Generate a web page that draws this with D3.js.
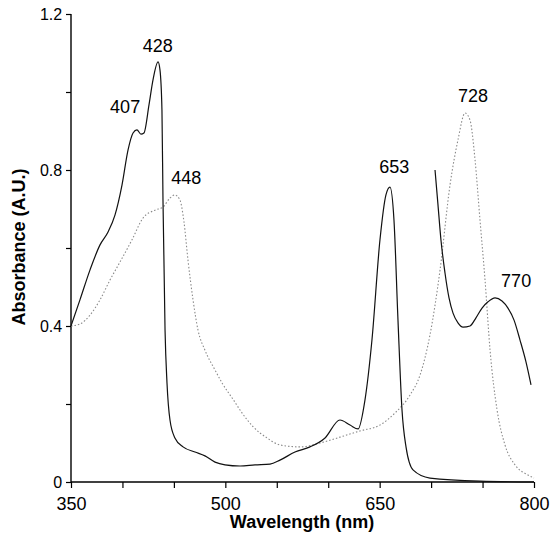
<!DOCTYPE html>
<html>
<head>
<meta charset="utf-8">
<script src="https://cdn.jsdelivr.net/npm/d3@7"></script>
<style>
    body { margin: 0; background: #fff; }
    svg { display: block; }
</style>
</head>
<body>
<div id="chart"></div>
<script>
// spectrum 1 (solid), full range
var solidWl = [350, 358.7, 368.5, 378.2, 386, 392.8, 399.6, 405.4, 410.3, 414.1, 418, 420.9, 425.8, 429.7, 434.6, 436.5,
    438.4, 439.4, 441.4, 443.3, 446.2, 451, 458.9, 470.5, 480.2, 490, 499.7, 514.3, 528.8, 543.4, 553.1, 567.7, 582.3,
    596.9, 611.4, 621.2, 629, 635.7, 642.5, 650.3, 656.1, 660, 663.9, 667.8, 671.7, 675.6, 682.4, 698.9, 747.5, 800];
var solidAbs = [0.40, 0.467, 0.544, 0.608, 0.641, 0.685, 0.762, 0.851, 0.895, 0.903, 0.892, 0.895, 0.967, 1.031, 1.077, 1.056,
    0.954, 0.723, 0.39, 0.254, 0.159, 0.113, 0.090, 0.077, 0.067, 0.051, 0.044, 0.041, 0.044, 0.046, 0.056, 0.077, 0.090,
    0.113, 0.159, 0.146, 0.136, 0.21, 0.364, 0.621, 0.736, 0.756, 0.672, 0.415, 0.185, 0.09, 0.031, 0.010, 0.002, 0.0];

// spectrum 2 (dotted)
var dotWl = [350, 358.7, 368.5, 378.2, 387.9, 397.6, 409.3, 420, 431.6, 439.4, 446.2, 451, 455.9, 459.8, 463.7, 468.6,
    473.4, 480.2, 490, 496.8, 507.5, 516, 526.9, 540.5, 553.1, 572.5, 592, 611.4, 630.8, 650.3, 664.9, 679.5, 689.2, 698.9, 708.7,
    718.4, 726.1, 733, 737.8, 742.7, 747.5, 752.4, 757.3, 764.1, 771.8, 781.5, 794.2, 800];
var dotAbs = [0.40, 0.405, 0.428, 0.467, 0.518, 0.564, 0.621, 0.677, 0.697, 0.705, 0.728, 0.736, 0.723, 0.667, 0.569, 0.467,
    0.39, 0.338, 0.287, 0.254, 0.212, 0.178, 0.142, 0.113, 0.095, 0.09, 0.10, 0.115, 0.131, 0.146, 0.177, 0.223, 0.274, 0.377, 0.544,
    0.762, 0.877, 0.946, 0.928, 0.826, 0.672, 0.518, 0.338, 0.185, 0.095, 0.044, 0.018, 0.01];

// spectrum 3 (solid), red end only
var redWl = [703.8, 706.7, 709.6, 713.5, 717.4, 721.3, 726.1, 731, 737.8, 743.6, 749.5, 755.3, 762.1, 768.9, 774.7,
    780.6, 786.4, 792.2, 797.1];
var redAbs = [0.80, 0.71, 0.62, 0.536, 0.472, 0.433, 0.408, 0.397, 0.40, 0.421, 0.446, 0.462, 0.472, 0.464, 0.446,
    0.415, 0.364, 0.308, 0.249];

// peak labels
var peakText = ['407', '428', '448', '653', '728', '770'];
var peakWl = [407, 428, 448, 653, 728, 770];
var peakAbs = [0.946, 1.103, 0.764, 0.792, 0.974, 0.50];
var peakDx = [-4.5, 6.5, 14.5, 11.5, 13, 13];

var xTicks = [350, 400, 450, 500, 550, 600, 650, 700, 750, 800];
var xLabels = [350, 500, 650, 800];
var yTicks = [0, 0.2, 0.4, 0.6, 0.8, 1.0, 1.2];
var yLabels = [0, 0.4, 0.8, 1.2];

var width = 560, height = 536;
var font = 'Liberation Sans, Arial, Helvetica, sans-serif';

var x = d3.scaleLinear().domain([350, 800]).range([71, 534]);
var y = d3.scaleLinear().domain([0, 1.2]).range([482, 14]);

var svg = d3.select('#chart').append('svg')
    .attr('width', width)
    .attr('height', height);

var zip = function (wl, ab) {
    return wl.map(function (w, i) { return { wl: w, abs: ab[i] }; });
};

var line = d3.line()
    .x(function (d) { return x(d.wl); })
    .y(function (d) { return y(d.abs); })
    .curve(d3.curveMonotoneX);

// axes
var xAxis = d3.axisBottom(x).tickValues(xTicks).tickSize(6)
    .tickFormat(function (d) { return xLabels.indexOf(d) >= 0 ? d : ''; });
var yAxis = d3.axisLeft(y).tickValues(yTicks).tickSize(5)
    .tickFormat(function (d) { return yLabels.indexOf(d) >= 0 ? (d === 0 ? '0' : d3.format('.1f')(d)) : ''; });

var gx = svg.append('g').attr('transform', 'translate(0,' + y(0) + ')').call(xAxis);
gx.select('.domain').attr('stroke-width', 1.6).attr('d', 'M' + x(350) + ',0H' + x(800));
gx.selectAll('line').attr('stroke-width', 1.2);
gx.selectAll('text').attr('font-family', font).attr('font-size', 18).attr('dy', '1.05em').attr('fill', '#000');

var gy = svg.append('g').attr('transform', 'translate(' + x(350) + ',0)').call(yAxis);
gy.select('.domain').attr('stroke-width', 1.4).attr('d', 'M0,' + y(1.2) + 'V' + y(0));
gy.selectAll('line').attr('stroke-width', 1.2);
gy.selectAll('text').attr('font-family', font).attr('font-size', 16).attr('dx', '-0.05em').attr('fill', '#000');

// curves
svg.append('path')
    .datum(zip(dotWl, dotAbs))
    .attr('fill', 'none')
    .attr('stroke', '#8a8a8a')
    .attr('stroke-width', 1.1)
    .attr('stroke-dasharray', '1.5,2')
    .attr('d', line);

svg.append('path')
    .datum(zip(solidWl, solidAbs))
    .attr('fill', 'none')
    .attr('stroke', '#111')
    .attr('stroke-width', 1.2)
    .attr('d', line);

svg.append('path')
    .datum(zip(redWl, redAbs))
    .attr('fill', 'none')
    .attr('stroke', '#111')
    .attr('stroke-width', 1.2)
    .attr('d', line);

// peak labels
svg.selectAll('text.peak')
    .data(peakText)
    .enter().append('text')
    .attr('class', 'peak')
    .attr('x', function (d, i) { return x(peakWl[i]) + peakDx[i]; })
    .attr('y', function (d, i) { return y(peakAbs[i]); })
    .attr('text-anchor', 'middle')
    .attr('font-family', font)
    .attr('font-size', 18)
    .text(function (d) { return d; });

// axis titles
svg.append('text')
    .attr('x', 302)
    .attr('y', 528)
    .attr('text-anchor', 'middle')
    .attr('font-family', font)
    .attr('font-size', 18)
    .attr('font-weight', 'bold')
    .text('Wavelength (nm)');

svg.append('text')
    .attr('transform', 'translate(25,247) rotate(-90)')
    .attr('text-anchor', 'middle')
    .attr('font-family', font)
    .attr('font-size', 18)
    .attr('font-weight', 'bold')
    .text('Absorbance (A.U.)');
</script>
</body>
</html>
